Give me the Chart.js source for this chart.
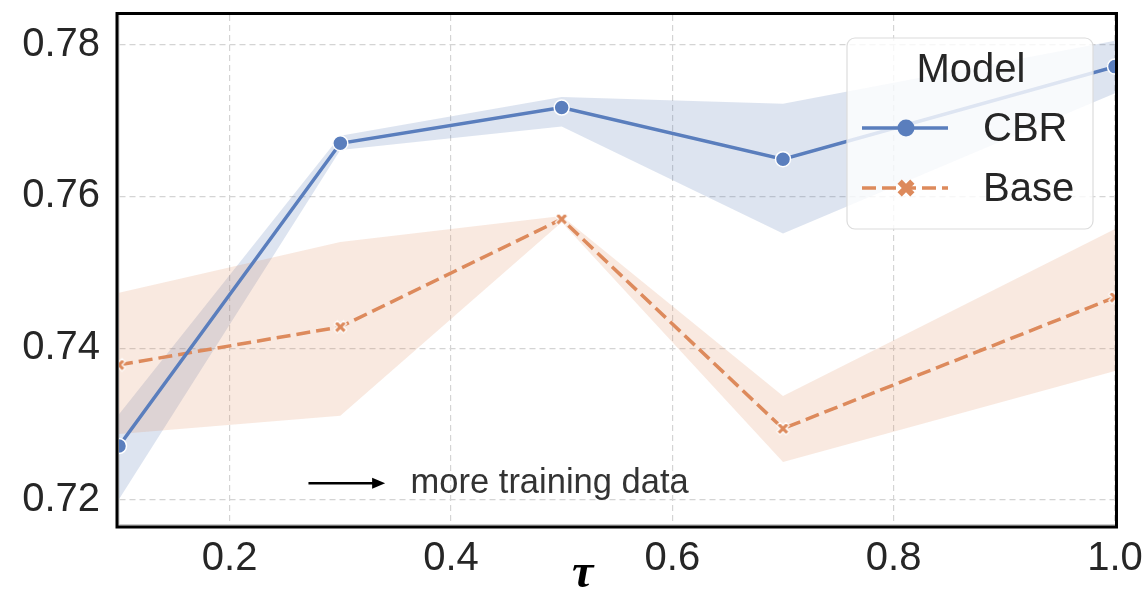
<!DOCTYPE html>
<html>
<head>
<meta charset="utf-8">
<script src="https://cdn.jsdelivr.net/npm/chart.js@4.4.1/dist/chart.umd.min.js"></script>
<style>
  html, body { margin: 0; padding: 0; background: #fff; }
  canvas { display: block; }
</style>
</head>
<body>
<canvas id="tauChart" width="1148" height="606"></canvas>
<script>
// values
const tau = [0.1, 0.3, 0.5, 0.7, 1.0];
const cbrMean = [0.7271, 0.7670, 0.7717, 0.7649, 0.7771];
const cbrLow  = [0.7201, 0.7661, 0.7692, 0.7551, 0.7736];
const cbrHigh = [0.7313, 0.7680, 0.7731, 0.7722, 0.7805];
const baseMean = [0.7378, 0.7428, 0.7570, 0.7294, 0.7467];
const baseLow  = [0.7287, 0.7311, 0.7566, 0.7250, 0.7370];
const baseHigh = [0.7473, 0.7540, 0.7574, 0.7337, 0.7557];
const xTicks = [0.2, 0.4, 0.6, 0.8, 1.0];
const yTicks = [0.72, 0.74, 0.76, 0.78];
const seriesNames = ['CBR', 'Base'];

const BLUE = '#5a7ebd';
const ORANGE = '#dd8a5c';
const BLUE_BAND = 'rgba(76, 114, 176, 0.19)';
const ORANGE_BAND = 'rgba(221, 132, 82, 0.18)';
const TEXT = '#262626';
const FONT = '"Liberation Sans", Arial, Helvetica, sans-serif';
const DASH = [14, 6];

const pts = (ys) => tau.map((x, i) => ({ x: x, y: ys[i] }));

// filled "X" marker like matplotlib's 'X'
function makeX(size, color, edge) {
  const c = document.createElement('canvas');
  const pad = 2;
  c.width = c.height = size + pad * 2;
  const g = c.getContext('2d');
  const h = size / 2, t = size / 6;
  g.translate(c.width / 2, c.height / 2);
  g.rotate(Math.PI / 4);
  g.beginPath();
  g.moveTo(-t, -h); g.lineTo(t, -h); g.lineTo(t, -t); g.lineTo(h, -t);
  g.lineTo(h, t); g.lineTo(t, t); g.lineTo(t, h); g.lineTo(-t, h);
  g.lineTo(-t, t); g.lineTo(-h, t); g.lineTo(-h, -t); g.lineTo(-t, -t);
  g.closePath();
  g.fillStyle = color;
  g.fill();
  if (edge) { g.strokeStyle = edge; g.lineWidth = 1.2; g.stroke(); }
  return c;
}
const xMarker = makeX(13, ORANGE, '#ffffff');
const xMarkerBig = makeX(18, ORANGE, null);

const framePlugin = {
  id: 'frame',
  afterDraw(chart) {
    const { ctx, chartArea: a } = chart;
    ctx.save();
    ctx.strokeStyle = '#000';
    ctx.lineWidth = 3;
    ctx.strokeRect(a.left - 2, a.top - 1.5, a.right - a.left + 3.5, a.bottom - a.top + 3.5);
    ctx.restore();
  }
};

const notePlugin = {
  id: 'notes',
  afterDraw(chart) {
    const { ctx, scales: { x, y }, chartArea: a } = chart;
    ctx.save();
    // arrow + note
    const x0 = x.getPixelForValue(0.2712), x1 = x.getPixelForValue(0.3405);
    const ya = y.getPixelForValue(0.7222);
    ctx.strokeStyle = '#000';
    ctx.fillStyle = '#000';
    ctx.lineWidth = 2.5;
    ctx.beginPath();
    ctx.moveTo(x0, ya); ctx.lineTo(x1 - 10, ya);
    ctx.stroke();
    ctx.beginPath();
    ctx.moveTo(x1, ya); ctx.lineTo(x1 - 13, ya - 5.5); ctx.lineTo(x1 - 13, ya + 5.5);
    ctx.closePath();
    ctx.fill();
    ctx.fillStyle = '#333333';
    ctx.font = '34.5px ' + FONT;
    ctx.textAlign = 'left';
    ctx.textBaseline = 'alphabetic';
    ctx.fillText('more training data', x.getPixelForValue(0.3635), y.getPixelForValue(0.7209));
    // axis symbol
    ctx.fillStyle = '#000';
    ctx.font = 'bold italic 48px "Liberation Serif", "DejaVu Serif", serif';
    ctx.textAlign = 'center';
    ctx.fillText('\u03c4', x.getPixelForValue(0.519), a.bottom + 62);
    ctx.restore();
  }
};

const legendPlugin = {
  id: 'modelLegend',
  afterDraw(chart) {
    const { ctx, chartArea: a } = chart;
    const bx = a.right - 268, by = a.top + 23, bw = 246, bh = 191, r = 8;
    ctx.save();
    ctx.beginPath();
    ctx.roundRect(bx, by, bw, bh, r);
    ctx.fillStyle = 'rgba(255,255,255,0.8)';
    ctx.fill();
    ctx.strokeStyle = '#dcdcdc';
    ctx.lineWidth = 1.2;
    ctx.stroke();
    ctx.fillStyle = TEXT;
    ctx.font = '40px ' + FONT;
    ctx.textAlign = 'center';
    ctx.textBaseline = 'middle';
    ctx.fillText('Model', bx + 124, by + 33);
    const rows = [
      { name: seriesNames[0], color: BLUE, dash: [], y: by + 90 },
      { name: seriesNames[1], color: ORANGE, dash: DASH, y: by + 150 }
    ];
    rows.forEach((row, i) => {
      ctx.strokeStyle = row.color;
      ctx.lineWidth = 3.5;
      ctx.setLineDash(row.dash);
      ctx.beginPath();
      ctx.moveTo(bx + 15, row.y); ctx.lineTo(bx + 101, row.y);
      ctx.stroke();
      ctx.setLineDash([]);
      const mx = bx + 59;
      if (i === 0) {
        ctx.fillStyle = row.color;
        ctx.beginPath();
        ctx.arc(mx, row.y, 8.5, 0, Math.PI * 2);
        ctx.fill();
      } else {
        ctx.drawImage(xMarkerBig, mx - xMarkerBig.width / 2, row.y - xMarkerBig.height / 2);
      }
      ctx.fillStyle = TEXT;
      ctx.textAlign = 'left';
      ctx.fillText(row.name, bx + 136, row.y + 2);
    });
    ctx.restore();
  }
};

new Chart(document.getElementById('tauChart'), {
  type: 'line',
  data: {
    datasets: [
      { label: 'cbrHigh', data: pts(cbrHigh), fill: '+1', backgroundColor: BLUE_BAND,
        borderWidth: 0, pointRadius: 0, order: 4 },
      { label: 'cbrLow', data: pts(cbrLow), fill: false,
        borderWidth: 0, pointRadius: 0, order: 4 },
      { label: 'baseHigh', data: pts(baseHigh), fill: '+1', backgroundColor: ORANGE_BAND,
        borderWidth: 0, pointRadius: 0, order: 3 },
      { label: 'baseLow', data: pts(baseLow), fill: false,
        borderWidth: 0, pointRadius: 0, order: 3 },
      { label: seriesNames[1], data: pts(baseMean), borderColor: ORANGE, borderWidth: 3.5,
        borderDash: DASH, pointStyle: xMarker, pointRadius: 7, fill: false, order: 2 },
      { label: seriesNames[0], data: pts(cbrMean), borderColor: BLUE, borderWidth: 3.5,
        pointStyle: 'circle', pointRadius: 7.5, pointBackgroundColor: BLUE,
        pointBorderColor: '#ffffff', pointBorderWidth: 1.5, fill: false, order: 1 }
    ]
  },
  options: {
    responsive: false,
    animation: false,
    devicePixelRatio: 1,
    clip: 0,
    layout: { padding: { left: 0, right: 33, top: 15, bottom: 0 } },
    plugins: { legend: { display: false }, tooltip: { enabled: false } },
    elements: { line: { tension: 0 } },
    scales: {
      x: {
        type: 'linear',
        min: 0.1,
        max: 1.0,
        afterBuildTicks: (s) => { s.ticks = xTicks.map(v => ({ value: v })); },
        afterFit: (s) => { s.height = 81; s.paddingLeft = 0; s.paddingRight = 0; },
        grid: { color: '#d4d4d4', lineWidth: 1.2, drawTicks: false },
        border: { display: true, color: '#cccccc', width: 1.5, dash: [6, 4] },
        ticks: { color: TEXT, font: { family: FONT, size: 40 }, padding: 10, maxRotation: 0,
          callback: (v) => Number(v).toFixed(1) }
      },
      y: {
        type: 'linear',
        min: 0.7167,
        max: 0.7839,
        afterBuildTicks: (s) => { s.ticks = yTicks.map(v => ({ value: v })); },
        afterFit: (s) => { s.width = 119; s.paddingTop = 0; s.paddingBottom = 0; },
        grid: { color: '#d4d4d4', lineWidth: 1.2, drawTicks: false },
        border: { display: true, color: '#cccccc', width: 1.5, dash: [6, 4] },
        ticks: { color: TEXT, font: { family: FONT, size: 40 }, padding: 19,
          callback: (v) => Number(v).toFixed(2) }
      }
    }
  },
  plugins: [framePlugin, notePlugin, legendPlugin]
});
</script>
</body>
</html>
